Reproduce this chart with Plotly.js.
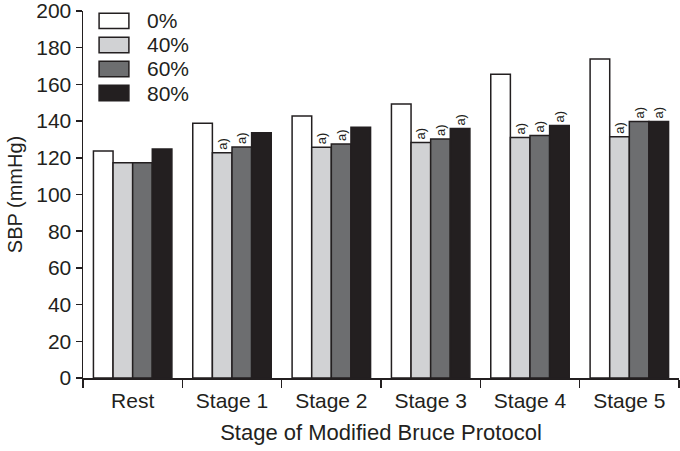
<!DOCTYPE html>
<html>
<head>
<meta charset="utf-8">
<script src="https://cdn.plot.ly/plotly-3.0.1.min.js"></script>
<style>html,body{margin:0;padding:0;background:#fff;}#chart{width:680px;height:451px;}</style>
</head>
<body>
<div id="chart"></div>
<script>
var categories = ['Rest', 'Stage 1', 'Stage 2', 'Stage 3', 'Stage 4', 'Stage 5'];
var seriesNames = ['0%', '40%', '60%', '80%'];
var sbp0  = [123.7, 138.8, 142.8, 149.3, 165.5, 173.8];
var sbp40 = [117.3, 122.8, 125.7, 128.4, 131.1, 131.5];
var sbp60 = [117.3, 125.9, 127.5, 130.2, 132.2, 139.8];
var sbp80 = [124.8, 133.7, 136.6, 135.9, 137.6, 139.8];
var mark0  = ['', '', '', '', '', ''];
var mark40 = ['', 'a)', 'a)', 'a)', 'a)', 'a)'];
var mark60 = ['', 'a)', 'a)', 'a)', 'a)', 'a)'];
var mark80 = ['', '', '', 'a)', 'a)', 'a)'];
var yTicks = [0, 20, 40, 60, 80, 100, 120, 140, 160, 180, 200];

var ink = '#231f20';
var fills = ['#ffffff', '#d1d2d4', '#6d6e70', '#231f20'];
var values = [sbp0, sbp40, sbp60, sbp80];
var marks = [mark0, mark40, mark60, mark80];
var fontFam = 'Liberation Sans, Arial, sans-serif';

var traces = values.map(function (v, i) {
  return {
    type: 'bar',
    x: categories,
    y: v,
    name: seriesNames[i],
    text: marks[i],
    textposition: 'outside',
    textangle: -90,
    constraintext: 'none',
    cliponaxis: false,
    textfont: {family: fontFam, size: 13, color: ink},
    marker: {color: fills[i], line: {color: ink, width: 1.5}},
    showlegend: false,
    hoverinfo: 'x+y'
  };
});

// custom legend with large swatches
var shapes = [];
var annotations = [];
var legX0 = 0.027, legX1 = 0.077;
var legTop = 0.973, step = 0.0655, boxH = 0.042;
seriesNames.forEach(function (n, i) {
  var yc = legTop - i * step;
  shapes.push({type: 'rect', xref: 'paper', yref: 'paper',
    x0: legX0, x1: legX1, y0: yc - boxH / 2, y1: yc + boxH / 2,
    fillcolor: fills[i], line: {color: ink, width: 1.5}});
  annotations.push({xref: 'paper', yref: 'paper', x: 0.104, y: yc,
    xanchor: 'left', yanchor: 'middle', showarrow: false, text: n,
    font: {family: fontFam, size: 21, color: ink}});
});

var layout = {
  width: 680, height: 451,
  margin: {l: 83, r: 1, t: 11, b: 73},
  paper_bgcolor: '#ffffff', plot_bgcolor: '#ffffff',
  barmode: 'group', bargap: 0.21, bargroupgap: 0,
  font: {family: fontFam, color: ink, size: 21},
  xaxis: {
    range: [-0.5, 5.5],
    showline: true, linecolor: ink, linewidth: 1.5,
    ticks: 'outside', tickson: 'boundaries', ticklen: 8, tickwidth: 1.5, tickcolor: ink,
    tickfont: {size: 21, color: ink},
    ticklabelstandoff: 3,
    showgrid: false, zeroline: false,
    title: {text: 'Stage of Modified Bruce Protocol', font: {size: 22, color: ink}, standoff: 14}
  },
  yaxis: {
    range: [0, 200],
    tickvals: yTicks,
    showline: true, linecolor: ink, linewidth: 1.5,
    ticks: 'outside', ticklen: 6, tickwidth: 1.5, tickcolor: ink,
    tickfont: {size: 21, color: ink},
    ticklabeloverflow: 'allow',
    showgrid: false, zeroline: false,
    title: {text: 'SBP (mmHg)', font: {size: 20, color: ink}, standoff: 8}
  },
  shapes: shapes,
  annotations: annotations
};

Plotly.newPlot('chart', traces, layout, {displayModeBar: false, staticPlot: true});
</script>
</body>
</html>
